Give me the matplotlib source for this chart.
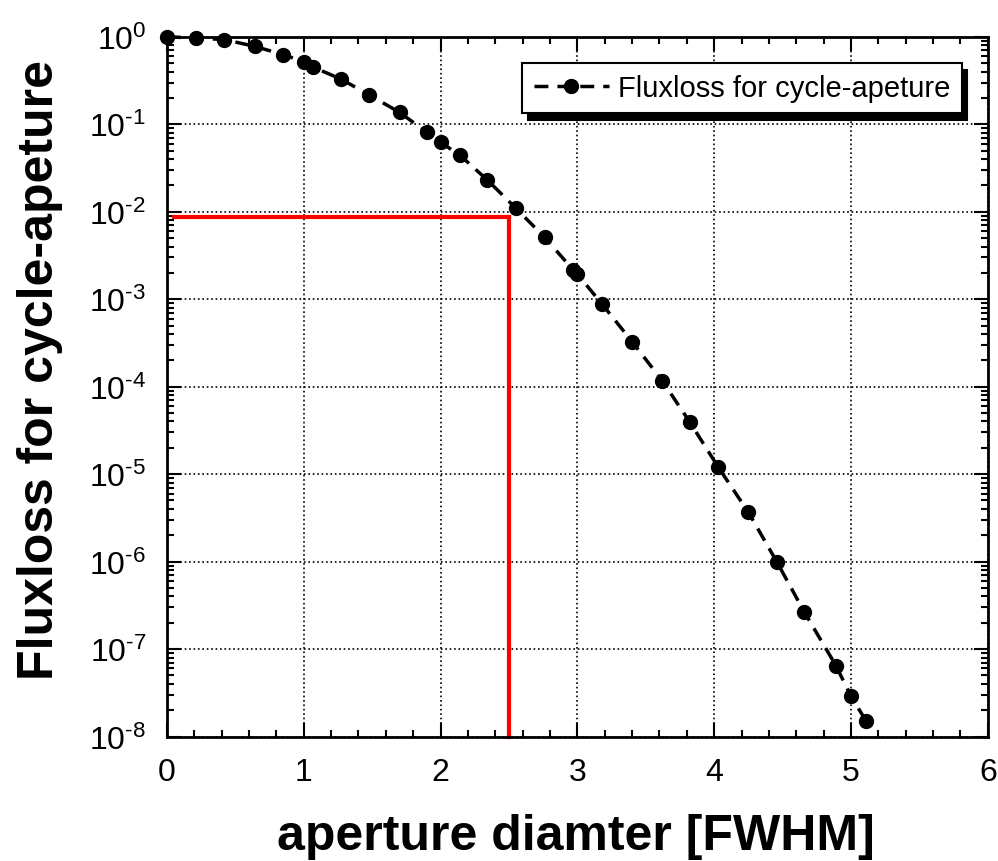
import numpy as np
import matplotlib
matplotlib.use("Agg")
import matplotlib.pyplot as plt
from matplotlib.ticker import MultipleLocator, LogLocator, FuncFormatter, NullFormatter

# =========================================================
# DATA
# =========================================================
aperture = [0.0, 0.21, 0.42, 0.64, 0.85, 1.00, 1.07, 1.27, 1.48, 1.70,
            1.90, 2.00, 2.14, 2.34, 2.55, 2.76, 2.97, 3.00, 3.18, 3.40,
            3.62, 3.82, 4.03, 4.25, 4.46, 4.66, 4.89, 5.00, 5.11]
fluxloss = [1.0, 0.97, 0.93, 0.78, 0.625, 0.52, 0.449, 0.33, 0.216, 0.137,
            0.081, 0.0622, 0.0446, 0.0232, 0.011, 0.0051, 0.00216, 0.00194, 8.8e-4, 3.27e-4,
            1.17e-4, 3.97e-5, 1.2e-5, 3.66e-6, 9.8e-7, 2.63e-7, 6.45e-8, 2.88e-8, 1.51e-8]

cut_x = 2.5
cut_y = 0.0088
cut_x0 = 0.05

X_LIM = (0, 6)
Y_LIM = (1e-8, 1.0)


def pow_label(v, pos):
    e = int(round(np.log10(v)))
    if e < 0:
        return r"$10^{\text{-}%d}$" % (-e)
    return r"$10^{%d}$" % e


# =========================================================
# STYLE
# =========================================================
plt.rcParams["font.family"] = ["Liberation Sans", "DejaVu Sans"]
plt.rcParams["mathtext.fontset"] = "custom"
plt.rcParams["mathtext.rm"] = "Liberation Sans"
plt.rcParams["mathtext.default"] = "regular"

fig = plt.figure(figsize=(9.98, 8.62), dpi=100)
ax = fig.add_axes([0.1673, 0.1444, 0.8225, 0.8117])

ax.plot(aperture, fluxloss, linestyle="--", color="black", linewidth=2.5,
        marker="o", markersize=10, dashes=(4, 2.6),
        label="Fluxloss for cycle-apeture", clip_on=False, zorder=3)

# red cut lines
ax.plot([cut_x0, cut_x], [cut_y, cut_y], color="red", linewidth=3, zorder=2)
ax.plot([cut_x, cut_x], [cut_y, Y_LIM[0]], color="red", linewidth=3, zorder=2,
        clip_on=False)

ax.set_yscale("log")
ax.set_xlim(*X_LIM)
ax.set_ylim(*Y_LIM)

ax.xaxis.set_major_locator(MultipleLocator(1))
ax.xaxis.set_minor_locator(MultipleLocator(0.2))
ax.yaxis.set_major_locator(LogLocator(base=10, numticks=20))
ax.yaxis.set_minor_locator(LogLocator(base=10, subs=np.arange(2, 10), numticks=20))
ax.yaxis.set_major_formatter(FuncFormatter(pow_label))
ax.yaxis.set_minor_formatter(NullFormatter())

ax.tick_params(which="both", direction="in", top=True, right=True,
               width=1.5, labelsize=23, colors="black")
ax.tick_params(which="major", length=10, pad=15)
ax.tick_params(which="minor", length=5)

for s in ax.spines.values():
    s.set_linewidth(2)

ax.grid(True, which="major", linestyle=":", color="black", linewidth=1.2)

ax.set_xlabel("aperture diamter [FWHM]", fontsize=36, fontweight="bold")
ax.set_ylabel("Fluxloss for cycle-apeture", fontsize=36, fontweight="bold")
ax.xaxis.set_label_coords(0.498, -0.110)
ax.yaxis.set_label_coords(-0.127, 0.525)

leg = ax.legend(loc="upper right", bbox_to_anchor=(0.968, 0.963), fontsize=21,
                fancybox=False, framealpha=1, edgecolor="black",
                handlelength=2.6, handletextpad=0.3, borderpad=0.38,
                borderaxespad=0,
                shadow={"ox": 4, "oy": -5, "color": "black", "alpha": 1})
leg.get_frame().set_linewidth(1.5)

plt.savefig("out.png", dpi=100)
